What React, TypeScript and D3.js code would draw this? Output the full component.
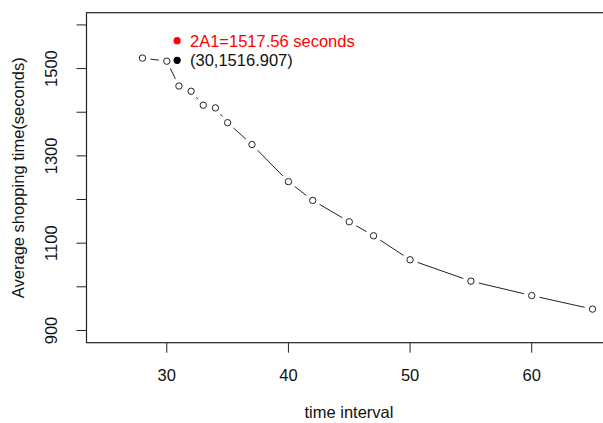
import React from "react";
import * as d3 from "d3";

const xValues = [28, 30, 31, 32, 33, 34, 35, 37, 40, 42, 45, 47, 50, 55, 60, 65];
const yValues = [1524, 1516.907, 1460, 1448, 1416, 1410, 1376, 1326, 1241, 1198, 1149, 1117, 1062, 1013, 980, 949];
const xTicks = [30, 40, 50, 60];
const yTicks = [900, 1000, 1100, 1200, 1300, 1400, 1500, 1600];
const yTickLabels = [900, 1100, 1300, 1500];
const annotX = 30.85;
const redPointY = 1564;
const blackPointY = 1519;
const redLabel = "2A1=1517.56 seconds";
const blackLabel = "(30,1516.907)";
const xTitle = "time interval";
const yTitle = "Average shopping time(seconds)";

const W = 603;
const H = 423;
const FONT = "'Liberation Sans', Arial, sans-serif";

export default function App() {
  const x = d3.scaleLinear().domain([23.4, 66.6]).range([86.5, 612]);
  const y = d3.scaleLinear().domain([872, 1628]).range([342.7, 12.7]);
  const pts = xValues.map((v, i) => [x(v), y(yValues[i])] as [number, number]);
  const gap = 8;
  const segs: string[] = [];
  for (let i = 0; i < pts.length - 1; i++) {
    const [x1, y1] = pts[i];
    const [x2, y2] = pts[i + 1];
    const dx = x2 - x1, dy = y2 - y1;
    const d = Math.hypot(dx, dy);
    if (d > 2 * gap) {
      const ux = dx / d, uy = dy / d;
      segs.push(
        d3.line()([
          [x1 + ux * gap, y1 + uy * gap],
          [x2 - ux * gap, y2 - uy * gap],
        ]) as string
      );
    }
  }
  const left = 86.5, right = 612, top = 12.7, bottom = 342.7;
  const tl = 10;
  return (
    <svg
      width={W}
      height={H}
      style={{ position: "absolute", left: 0, top: 0, background: "#fff" }}
      fontFamily={FONT}
    >
      <rect x={0} y={0} width={W} height={H} fill="#fff" />
      <rect x={left} y={top} width={right - left} height={bottom - top} fill="none" stroke="#222" strokeWidth={1.2} />
      {xTicks.map((t) => (
        <g key={"xt" + t}>
          <line x1={x(t)} x2={x(t)} y1={bottom} y2={bottom + tl} stroke="#222" />
          <text x={x(t)} y={381} textAnchor="middle" fontSize={16.5} fill="#111">
            {t}
          </text>
        </g>
      ))}
      {yTicks.map((t) => (
        <line key={"yt" + t} x1={left - tl} x2={left} y1={y(t)} y2={y(t)} stroke="#222" />
      ))}
      {yTickLabels.map((t) => (
        <text
          key={"yl" + t}
          transform={`translate(57,${y(t)}) rotate(-90)`}
          textAnchor="middle"
          fontSize={16.5}
          fill="#111"
        >
          {t}
        </text>
      ))}
      <text x={349} y={418} textAnchor="middle" fontSize={16.5} fill="#111">
        {xTitle}
      </text>
      <text
        transform={`translate(24,${(top + bottom) / 2}) rotate(-90)`}
        textAnchor="middle"
        fontSize={16.5}
        fill="#111"
      >
        {yTitle}
      </text>
      {segs.map((d, i) => (
        <path key={"s" + i} d={d} stroke="#222" strokeWidth={1} fill="none" />
      ))}
      {pts.map(([px, py], i) => (
        <circle key={"p" + i} cx={px} cy={py} r={3.2} fill="#fff" stroke="#222" strokeWidth={1} />
      ))}
      <circle cx={x(annotX)} cy={y(redPointY)} r={3.6} fill="#ff0000" />
      <circle cx={x(annotX)} cy={y(blackPointY)} r={3.6} fill="#000" />
      <text x={190} y={y(redPointY) + 6} fontSize={16.5} fill="#ff0000">
        {redLabel}
      </text>
      <text x={190} y={y(blackPointY) + 6} fontSize={16.5} fill="#111">
        {blackLabel}
      </text>
    </svg>
  );
}
